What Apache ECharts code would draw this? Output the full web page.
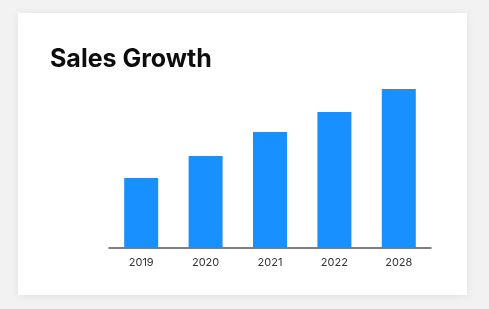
<!DOCTYPE html>
<html>
<head>
<meta charset="utf-8">
<script src="https://cdn.jsdelivr.net/npm/echarts@6/dist/echarts.min.js"></script>
<style>
html,body{margin:0;padding:0;background:#f2f2f2;}
#c{width:489px;height:309px;}
</style>
</head>
<body>
<div id="c"></div>
<script>
const titleText = "Sales Growth";
const categories = ["2019", "2020", "2021", "2022", "2028"];
const salesValues = [70, 92, 116, 136, 159];

const chart = echarts.init(document.getElementById('c'), null, {renderer: 'canvas'});
chart.setOption({
  backgroundColor: '#f2f2f2',
  animation: false,
  graphic: [{
    type: 'rect',
    z: -10,
    shape: {x: 18, y: 13, width: 449, height: 282},
    style: {fill: '#ffffff', shadowBlur: 8, shadowColor: 'rgba(0,0,0,0.08)', shadowOffsetY: 1}
  }],
  title: {
    text: titleText,
    left: 45,
    top: 42,
    textStyle: {fontFamily: 'Inter', fontWeight: 'bold', fontSize: 25, color: '#0d0d0d'}
  },
  grid: {left: 109, right: 58, top: 89, bottom: 61, containLabel: false},
  xAxis: {
    type: 'category',
    data: categories,
    axisLine: {lineStyle: {color: '#555555', width: 1.5}},
    axisTick: {show: false},
    axisLabel: {color: '#333333', fontFamily: 'Inter', fontSize: 11, margin: 9}
  },
  yAxis: {
    type: 'value',
    min: 0,
    max: 159,
    show: false,
    splitLine: {show: false}
  },
  series: [{
    type: 'bar',
    data: salesValues,
    barWidth: 34,
    itemStyle: {color: '#1890FF'}
  }]
});
</script>
</body>
</html>
